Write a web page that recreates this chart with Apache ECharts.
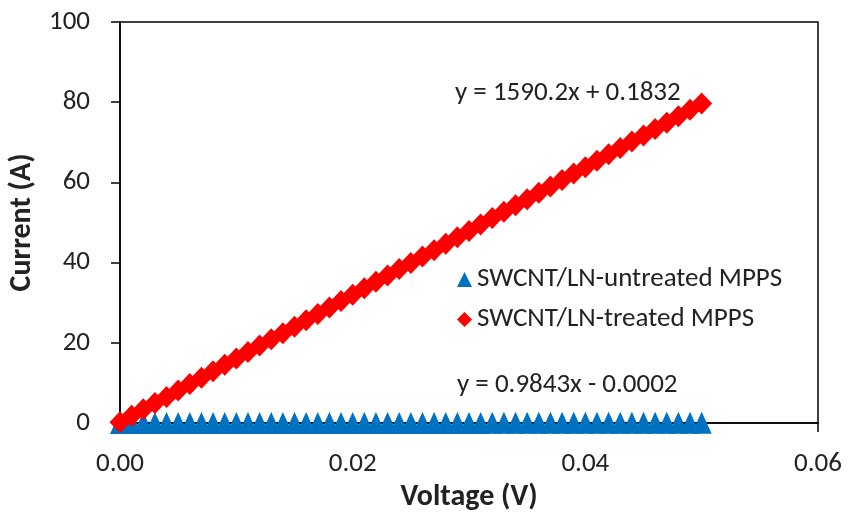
<!DOCTYPE html>
<html>
<head>
<meta charset="utf-8">
<script src="https://cdn.jsdelivr.net/npm/echarts@6/dist/echarts.min.js"></script>
<style>
    body { margin: 0; background: #fff; }
    #main { width: 852px; height: 512px; }
</style>
</head>
<body>
<div id="main"></div>
<script type="text/javascript">
    // voltage steps (V)
    var voltage = [0.000, 0.001, 0.002, 0.003, 0.004, 0.005, 0.006, 0.007, 0.008, 0.009,
        0.010, 0.011, 0.012, 0.013, 0.014, 0.015, 0.016, 0.017, 0.018, 0.019,
        0.020, 0.021, 0.022, 0.023, 0.024, 0.025, 0.026, 0.027, 0.028, 0.029,
        0.030, 0.031, 0.032, 0.033, 0.034, 0.035, 0.036, 0.037, 0.038, 0.039,
        0.040, 0.041, 0.042, 0.043, 0.044, 0.045, 0.046, 0.047, 0.048, 0.049, 0.050];
    // current (A), untreated
    var untreated = [0.000, 0.001, 0.002, 0.003, 0.004, 0.005, 0.006, 0.007, 0.008, 0.009,
        0.010, 0.011, 0.012, 0.013, 0.014, 0.015, 0.016, 0.017, 0.018, 0.019,
        0.020, 0.021, 0.022, 0.023, 0.024, 0.025, 0.026, 0.027, 0.028, 0.029,
        0.030, 0.031, 0.032, 0.033, 0.034, 0.035, 0.036, 0.037, 0.038, 0.039,
        0.040, 0.041, 0.042, 0.043, 0.044, 0.045, 0.046, 0.047, 0.048, 0.049, 0.049];
    // current (A), treated
    var treated = [0.2, 1.8, 3.4, 5.0, 6.5, 8.1, 9.7, 11.3, 12.9, 14.5,
        16.1, 17.7, 19.3, 20.9, 22.4, 24.0, 25.6, 27.2, 28.8, 30.4,
        32.0, 33.6, 35.2, 36.8, 38.4, 39.9, 41.5, 43.1, 44.7, 46.3,
        47.9, 49.5, 51.1, 52.7, 54.3, 55.8, 57.4, 59.0, 60.6, 62.2,
        63.8, 65.4, 67.0, 68.6, 70.2, 71.7, 73.3, 74.9, 76.5, 78.1, 79.7];
    var names = ['SWCNT/LN-untreated MPPS', 'SWCNT/LN-treated MPPS'];
    var equations = ['y = 0.9843x - 0.0002', 'y = 1590.2x + 0.1832'];

    var font = 'Carlito, Lato, sans-serif';
    function pairs(xs, ys) {
        return xs.map(function (x, i) { return [x, ys[i]]; });
    }
    var axisLine = { show: true, onZero: false, lineStyle: { color: '#000', width: 1.5 } };

    var myChart = echarts.init(document.getElementById('main'));
    var option = {
        animation: false,
        grid: { left: 120, right: 34, top: 22, bottom: 89, outerBoundsMode: 'none',
            show: true, borderColor: '#000', borderWidth: 1.5 },
        legend: {
            orient: 'vertical',
            left: 452, top: 261,
            itemWidth: 15, itemHeight: 15, itemGap: 13,
            textStyle: { fontFamily: font, fontSize: 27, color: '#222' },
            data: [
                { name: names[0], icon: 'triangle' },
                { name: names[1], icon: 'diamond' }
            ]
        },
        xAxis: {
            type: 'value', min: 0, max: 0.06, interval: 0.02,
            name: 'Voltage (V)', nameLocation: 'middle', nameGap: 56,
            nameTextStyle: { fontFamily: font, fontSize: 30, fontWeight: 'bold', color: '#222' },
            axisLine: axisLine,
            axisTick: { show: true, inside: false, length: 9, lineStyle: { color: '#000', width: 1.5 } },
            axisLabel: { fontFamily: font, fontSize: 27, color: '#222', margin: 28,
                formatter: function (v) { return v.toFixed(2); } },
            splitLine: { show: false }
        },
        yAxis: {
            type: 'value', min: 0, max: 100, interval: 20,
            name: 'Current (A)', nameLocation: 'middle', nameGap: 83,
            nameTextStyle: { fontFamily: font, fontSize: 30, fontWeight: 'bold', color: '#222' },
            axisLine: axisLine,
            axisTick: { show: true, inside: false, length: 9, lineStyle: { color: '#000', width: 1.5 } },
            axisLabel: { fontFamily: font, fontSize: 27, color: '#222', margin: 30 },
            splitLine: { show: false }
        },
        series: [{
            name: names[0],
            type: 'scatter',
            symbol: 'triangle',
            symbolSize: [20, 22],
            itemStyle: { color: '#0070C0', opacity: 1 },
            data: pairs(voltage, untreated)
        }, {
            name: names[1],
            type: 'scatter',
            symbol: 'diamond',
            symbolSize: [21, 22],
            itemStyle: { color: '#FF0000', opacity: 1 },
            data: pairs(voltage, treated)
        }],
        graphic: [{
            type: 'text', left: 457, top: 372,
            style: { text: equations[0], font: '27px ' + font, fill: '#222' }
        }, {
            type: 'text', left: 455, top: 80,
            style: { text: equations[1], font: '27px ' + font, fill: '#222' }
        }]
    };
    myChart.setOption(option);
</script>
</body>
</html>
